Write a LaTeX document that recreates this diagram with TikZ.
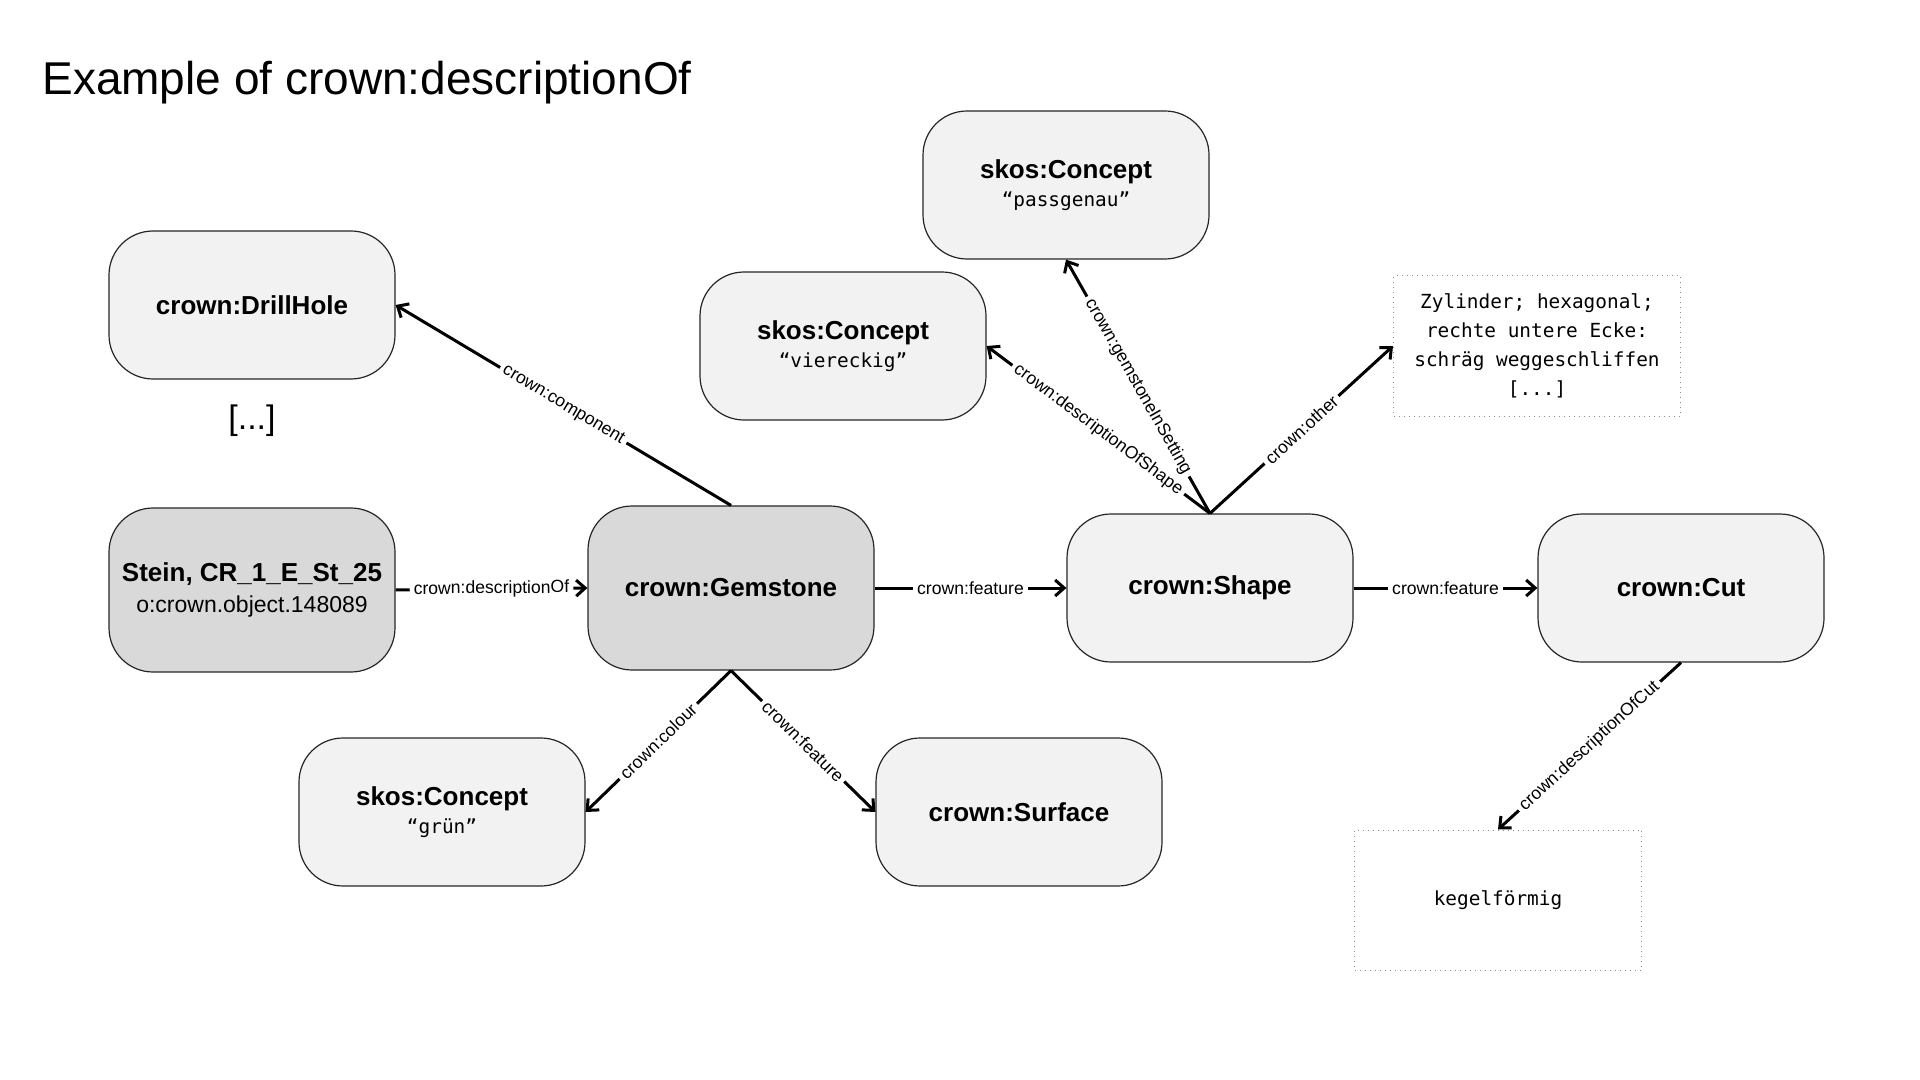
\documentclass[tikz,border=0pt]{standalone}
\usepackage{fontspec}
\setmainfont{Liberation Sans}
\setmonofont{DejaVu Sans Mono}
\usepackage{tikz}
\usetikzlibrary{arrows.meta}
\usetikzlibrary{positioning}

\definecolor{boxLight}{HTML}{F2F2F2}
\definecolor{boxDark}{HTML}{D9D9D9}

\tikzset{
    entity/.style={rectangle, rounded corners=22pt, draw=black!85, line width=0.6pt, fill=boxLight, minimum width=143pt, minimum height=74pt, align=center, font=\fontsize{13}{16.5}\selectfont\bfseries},
    entityDark/.style={entity, fill=boxDark, minimum height=82pt},
    literal/.style={rectangle, draw=black!45, dotted, line width=0.5pt, minimum width=143.5pt, minimum height=70pt, align=center, font=\fontsize{9.7}{14.5}\selectfont\ttfamily},
    link/.style={-{Straight Barb[length=4.5pt,width=8pt]}, line width=1.5pt},
    linkLabel/.style={sloped, fill=white, inner sep=2pt, font=\fontsize{8.8}{10}\selectfont}
}

\newcommand{\conceptValue}[1]{{\mdseries\ttfamily\fontsize{9.7}{15}\selectfont #1}}
\newcommand{\objectId}[1]{{\mdseries\fontsize{11.5}{15}\selectfont #1}}

\begin{document}
\begin{tikzpicture}[x=0.5pt, y=-0.5pt]
    \useasboundingbox (0,0) rectangle (1920,1080);

    \node [anchor=base west, inner sep=0pt, font=\fontsize{23}{27}\selectfont] (title) at (42,95) {Example of crown:descriptionOf};

    % main row
    \node [entityDark] (stein) at (252,590) {Stein, CR\_1\_E\_St\_25\\[-1pt] \objectId{o:crown.object.148089}};
    \node [entityDark] (gemstone) at (731,588) {\raisebox{-1.5pt}{crown:Gemstone}};
    \node [entity] (shape) at (1210,588) {\raisebox{-2pt}{crown:Shape}};
    \node [entity] (cut) at (1681,588) {\raisebox{-1.5pt}{crown:Cut}};

    % above
    \node [entity] (drillHole) at (252,305) {crown:DrillHole};
    \node [below=9pt of drillHole, font=\fontsize{17}{20}\selectfont] (drillMore) {[...]};
    \node [entity] (conceptShape) at (843,346) {skos:Concept\\[-2.5pt] \conceptValue{“viereckig”}};
    \node [entity] (conceptSetting) at (1066,185) {skos:Concept\\[-2.5pt] \conceptValue{“passgenau”}};
    \node [literal] (otherText) at (1537,346) {Zylinder; hexagonal;\\ rechte untere Ecke:\\ schräg weggeschliffen\\ {[...]}};

    % below
    \node [entity] (conceptColour) at (442,812) {skos:Concept\\[-2.5pt] \conceptValue{“grün”}};
    \node [entity] (surface) at (1019,812) {crown:Surface};
    \node [literal] (cutText) at (1498,900) {kegelförmig};

    \draw [link] (stein.east) -- node [linkLabel] {crown:descriptionOf} (gemstone.west);
    \draw [link] (gemstone.east) -- node [linkLabel] {crown:feature} (shape.west);
    \draw [link] (shape.east) -- node [linkLabel] {crown:feature} (cut.west);
    \draw [link] (gemstone.north) -- node [linkLabel] {crown:component} (drillHole.east);
    \draw [link] (shape.north) -- node [linkLabel] {crown:descriptionOfShape} (conceptShape.east);
    \draw [link] (shape.north) -- node [linkLabel] {crown:gemstoneInSetting} (conceptSetting.south);
    \draw [link] (shape.north) -- node [linkLabel] {crown:other} (otherText.west);
    \draw [link] (gemstone.south) -- node [linkLabel] {crown:colour} (conceptColour.east);
    \draw [link] (gemstone.south) -- node [linkLabel] {crown:feature} (surface.west);
    \draw [link] (cut.south) -- node [linkLabel] {crown:descriptionOfCut} (cutText.north);
\end{tikzpicture}
\end{document}
